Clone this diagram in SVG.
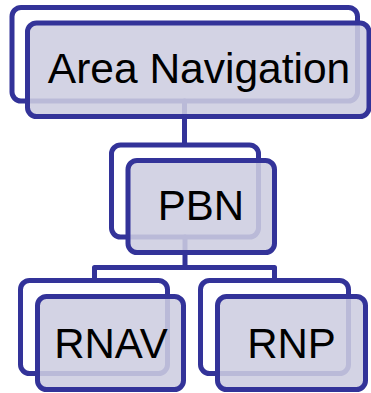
<svg xmlns="http://www.w3.org/2000/svg" width="371" height="393" viewBox="0 0 371 393">
<style>
.back{fill:none;stroke:#333399;stroke-width:5}
.front{fill:#CDCDE0;fill-opacity:0.88;stroke:#333399;stroke-width:5}
.conn{fill:none;stroke:#333399;stroke-width:5;stroke-linejoin:round;stroke-linecap:round}
text{font-family:"Liberation Sans",Arial,sans-serif;font-size:42px;fill:#000;text-anchor:middle}
</style>
<rect width="371" height="393" fill="#fff"/>
<g id="connectors">
<path class="conn" d="M184.5 101 V144"/>
<path class="conn" d="M185 237 V267.5"/>
<path class="conn" d="M94.5 280 V267.5 H274.5 V280"/>
</g>
<g id="area-navigation">
<rect class="back" x="12" y="7.5" width="345.5" height="93.5" rx="9"/>
<rect class="front" x="27.5" y="23" width="341.5" height="93.5" rx="9"/>
<text x="199" y="82.8" style="font-size:42.5px">Area Navigation</text>
</g>
<g id="pbn">
<rect class="back" x="111.5" y="145" width="147" height="92" rx="9"/>
<rect class="front" x="128" y="160.5" width="146.5" height="92" rx="9"/>
<text x="201" y="219.5">PBN</text>
</g>
<g id="rnav">
<rect class="back" x="20.5" y="280.5" width="147" height="93" rx="9"/>
<rect class="front" x="37.5" y="296.5" width="146" height="93" rx="9"/>
<text x="111" y="357.5">RNAV</text>
</g>
<g id="rnp">
<rect class="back" x="200.5" y="280.5" width="148" height="93" rx="9"/>
<rect class="front" x="217.5" y="296.5" width="148" height="93" rx="9"/>
<text x="291.5" y="357.5">RNP</text>
</g>
</svg>
